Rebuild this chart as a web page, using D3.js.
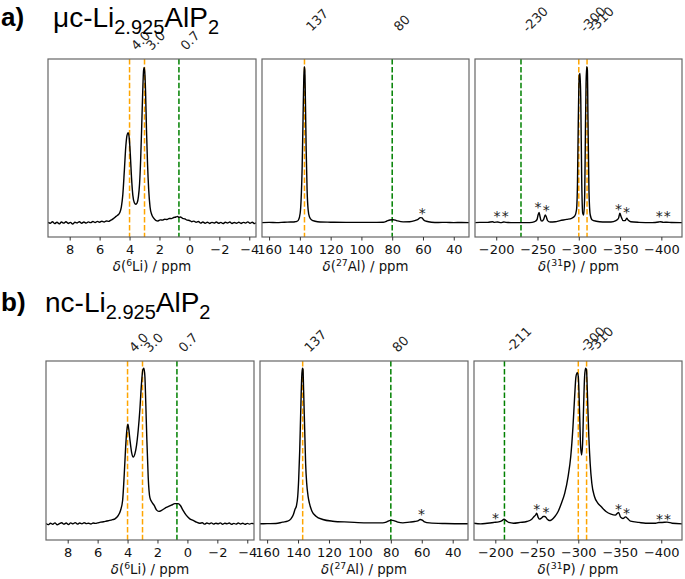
<!DOCTYPE html>
<html><head><meta charset="utf-8">
<script src="https://cdn.jsdelivr.net/npm/d3@7"></script>
<style>body{margin:0;background:#fff}svg{display:block}</style>
</head><body>
<script>
// ---------------- DATA ----------------
// 6Li spectra: [ppm, normalized intensity]
const liMicro = [[9.45,0.002],[9.3,-0.004],[9.15,0.006],[9.0,-0.006],[8.85,0.003],[8.7,-0.008],[8.55,0.004],[8.4,-0.003],[8.25,0.006],[8.1,-0.005],[7.95,0.002],[7.8,-0.009],[7.65,0.003],[7.5,-0.002],[7.35,0.006],[7.2,-0.004],[7.05,0.004],[6.9,-0.003],[6.75,0.005],[6.6,0.0],[6.45,0.007],[6.3,0.001],[6.15,0.008],[6.0,0.003],[5.85,0.009],[5.7,0.004],[5.55,0.011],[5.4,0.008],[5.25,0.016],[5.1,0.024],[5.0,0.032],[4.9,0.04],[4.8,0.047],[4.65,0.065],[4.55,0.10],[4.45,0.18],[4.35,0.33],[4.25,0.49],[4.17,0.56],[4.09,0.577],[4.02,0.54],[3.95,0.44],[3.87,0.29],[3.78,0.175],[3.68,0.128],[3.58,0.118],[3.49,0.128],[3.41,0.165],[3.33,0.25],[3.26,0.40],[3.19,0.61],[3.12,0.84],[3.06,0.98],[3.02,0.995],[2.98,0.96],[2.93,0.84],[2.87,0.60],[2.80,0.38],[2.72,0.21],[2.63,0.10],[2.52,0.052],[2.40,0.03],[2.25,0.015],[2.1,0.011],[1.95,0.018],[1.8,0.016],[1.65,0.022],[1.5,0.02],[1.35,0.027],[1.2,0.026],[1.05,0.033],[0.9,0.036],[0.8,0.04],[0.7,0.034],[0.6,0.036],[0.45,0.028],[0.3,0.024],[0.15,0.016],[0.0,0.014],[-0.15,0.006],[-0.3,0.01],[-0.45,0.002],[-0.6,0.007],[-0.75,-0.003],[-0.9,0.004],[-1.05,-0.004],[-1.2,0.003],[-1.35,-0.005],[-1.5,0.002],[-1.65,-0.003],[-1.8,0.004],[-1.95,-0.004],[-2.1,0.002],[-2.25,-0.006],[-2.4,0.003],[-2.55,-0.002],[-2.7,0.004],[-2.85,-0.005],[-3.0,0.001],[-3.15,-0.004],[-3.3,0.003],[-3.45,-0.005],[-3.6,0.002],[-3.75,-0.003],[-3.9,0.005],[-4.05,-0.004],[-4.2,0.003],[-4.35,-0.006],[-4.45,0.0]];
const liNano = [[9.45,0.002],[9.3,-0.005],[9.15,0.004],[9.0,-0.003],[8.85,0.006],[8.7,-0.006],[8.55,0.002],[8.4,0.007],[8.25,-0.002],[8.1,0.005],[7.95,-0.004],[7.8,0.006],[7.65,0.0],[7.5,0.008],[7.35,-0.002],[7.2,0.005],[7.05,0.0],[6.9,0.007],[6.75,0.001],[6.6,0.004],[6.45,-0.001],[6.3,0.005],[6.15,0.003],[6.0,0.006],[5.8,0.011],[5.6,0.013],[5.4,0.018],[5.2,0.022],[5.0,0.027],[4.84,0.032],[4.72,0.042],[4.62,0.054],[4.47,0.086],[4.33,0.15],[4.22,0.32],[4.13,0.49],[4.05,0.60],[3.98,0.64],[3.92,0.61],[3.84,0.54],[3.73,0.46],[3.62,0.43],[3.51,0.45],[3.40,0.505],[3.29,0.60],[3.18,0.73],[3.07,0.90],[2.98,0.99],[2.91,1.0],[2.84,0.946],[2.78,0.77],[2.71,0.54],[2.62,0.30],[2.51,0.17],[2.38,0.14],[2.22,0.118],[2.07,0.09],[1.91,0.08],[1.73,0.086],[1.51,0.10],[1.29,0.11],[1.07,0.12],[0.84,0.13],[0.62,0.13],[0.47,0.118],[0.29,0.086],[0.07,0.054],[-0.16,0.032],[-0.38,0.022],[-0.6,0.011],[-0.82,0.004],[-1.0,0.007],[-1.15,-0.002],[-1.3,0.005],[-1.45,0.0],[-1.6,0.006],[-1.75,-0.002],[-1.9,0.004],[-2.05,0.0],[-2.2,0.006],[-2.35,-0.003],[-2.5,0.004],[-2.65,0.0],[-2.8,0.005],[-2.95,-0.003],[-3.1,0.003],[-3.25,-0.002],[-3.4,0.005],[-3.55,-0.001],[-3.7,0.004],[-3.85,-0.003],[-4.0,0.003],[-4.15,-0.002],[-4.3,0.003],[-4.45,0.0]];
// 27Al spectra
const alMicro = [[164.6,0.0],[160,0.002],[155,0.0],[150,0.003],[146,0.004],[143,0.006],[142,0.008],[140.9,0.017],[139.8,0.06],[139.2,0.145],[138.5,0.36],[138.1,0.57],[137.6,0.85],[137.2,1.0],[136.8,0.98],[136.4,0.79],[135.9,0.47],[135.3,0.21],[134.6,0.08],[133.8,0.038],[132.3,0.017],[130.1,0.009],[126.9,0.004],[120,0.003],[110,0.002],[100,0.002],[90,0.002],[85.8,0.003],[83.7,0.009],[81.5,0.017],[79.4,0.019],[77.2,0.013],[72.9,0.005],[68.6,0.006],[65.3,0.013],[63.2,0.021],[61.7,0.032],[60.6,0.03],[59.5,0.017],[57.8,0.009],[54.5,0.003],[50,0.001],[45,0.002],[40,0.0],[35,0.001],[30.1,0.0]];
const alNano = [[165,0.0],[160,0.001],[154.3,0.002],[150,0.011],[146.7,0.017],[144.6,0.032],[143.0,0.06],[142.0,0.092],[141.1,0.113],[140.2,0.177],[139.6,0.284],[138.9,0.476],[138.3,0.71],[137.6,0.947],[137.2,1.0],[136.8,0.994],[136.4,0.86],[135.7,0.605],[135.1,0.39],[134.4,0.26],[133.5,0.177],[132.7,0.135],[131.0,0.081],[128.4,0.049],[124.0,0.028],[117.6,0.017],[106.8,0.011],[96.0,0.006],[85.2,0.006],[83.0,0.011],[81.3,0.019],[79.6,0.024],[77.6,0.019],[75.5,0.011],[72.2,0.006],[67.9,0.011],[64.7,0.015],[62.5,0.019],[61.0,0.028],[59.7,0.024],[58.2,0.013],[55.0,0.006],[45,0.002],[30,0.0]];
// 31P spectra
const pMicro = [[-174.6,0.0],[-180,0.002],[-189.8,0.002],[-195.8,0.006],[-197.8,0.002],[-201.8,0.004],[-205.7,0.0],[-209,0.004],[-211.7,0.002],[-221.6,0.0],[-230,0.0],[-237.6,0.0],[-243.5,0.002],[-247.5,0.009],[-249.5,0.021],[-250.7,0.049],[-251.9,0.066],[-253.1,0.038],[-254.3,0.013],[-255.5,0.011],[-257.4,0.021],[-259.4,0.049],[-260.6,0.038],[-262.2,0.013],[-265.4,0.004],[-271.4,0.006],[-277.3,0.013],[-285.3,0.021],[-291.3,0.028],[-295.2,0.043],[-297.2,0.081],[-298.4,0.25],[-299.2,0.57],[-300.0,0.85],[-300.8,0.95],[-301.6,0.957],[-302.4,0.79],[-303.6,0.25],[-304.8,0.06],[-306.0,0.049],[-307.2,0.19],[-308.0,0.57],[-308.8,0.89],[-309.6,1.0],[-310.4,0.98],[-311.1,0.68],[-312.3,0.21],[-313.9,0.049],[-316.3,0.017],[-321.1,0.009],[-329.0,0.004],[-339.0,0.004],[-345.0,0.013],[-348.1,0.028],[-349.7,0.06],[-351.3,0.038],[-353.7,0.013],[-356.1,0.013],[-358.1,0.028],[-359.7,0.017],[-362.9,0.006],[-372.8,0.002],[-388.7,0.0],[-396.7,0.004],[-398.7,0.006],[-402.6,0.002],[-406.6,0.003],[-412,0.001],[-422.5,0.0],[-425,0.0]];
const pNano = [[-174,0.004],[-182.3,0.0],[-190.2,0.004],[-198.2,0.009],[-204.1,0.013],[-208.1,0.021],[-210.5,0.03],[-212.9,0.021],[-216.1,0.009],[-222.0,0.004],[-230.0,0.009],[-237.9,0.015],[-243.9,0.03],[-246.7,0.047],[-248.7,0.058],[-249.9,0.069],[-251.5,0.043],[-253.1,0.03],[-255.4,0.036],[-257.8,0.047],[-259.8,0.047],[-262.6,0.03],[-265.0,0.021],[-267.8,0.026],[-271.8,0.047],[-275.7,0.079],[-279.7,0.133],[-283.7,0.197],[-287.7,0.304],[-290.9,0.433],[-293.6,0.625],[-295.6,0.818],[-297.2,0.946],[-298.8,0.972],[-300.0,0.946],[-301.6,0.711],[-302.8,0.497],[-304.0,0.443],[-305.2,0.518],[-306.4,0.754],[-307.6,0.946],[-308.8,1.0],[-309.9,0.989],[-311.1,0.818],[-312.7,0.561],[-314.3,0.39],[-316.3,0.261],[-319.5,0.176],[-323.5,0.133],[-327.4,0.111],[-333.4,0.079],[-339.4,0.062],[-344.6,0.056],[-348.5,0.073],[-351.0,0.043],[-353.8,0.034],[-357.0,0.045],[-359.5,0.034],[-363.0,0.017],[-373.2,0.009],[-381.1,0.004],[-393.1,0.004],[-397.1,0.009],[-401.0,0.009],[-407.0,0.011],[-413.0,0.004],[-425,0.0]];

// reference lines (ppm), their labels and kind
const liRefs = [4.0, 3.0, 0.7];
const liRefLabels = ["4.0", "3.0", "0.7"];
const liRefKinds = ["main", "main", "other"];
const alRefs = [137, 80];
const alRefLabels = ["137", "80"];
const alRefKinds = ["main", "other"];
const pRefsMicro = [-230, -300, -310];
const pRefLabelsMicro = ["-230", "-300", "-310"];
const pRefsNano = [-211, -300, -310];
const pRefLabelsNano = ["-211", "-300", "-310"];
const pRefKinds = ["other", "main", "main"];

// spinning sideband markers [ppm, intensity]
const alStarsMicro = [[60.4, 0.08]];
const alStarsNano = [[60.1, 0.08]];
const pStarsMicro = [[-201, 0.06], [-210.9, 0.06], [-250.7, 0.12], [-260.6, 0.103], [-348.1, 0.107], [-357.7, 0.086], [-397.5, 0.06], [-407, 0.06]];
const pStarsNano = [[-200.2, 0.058], [-249.9, 0.115], [-261, 0.096], [-348.5, 0.115], [-358, 0.09], [-397.9, 0.053], [-407.4, 0.053]];

// tick labels
const liTicks = [8, 6, 4, 2, 0, -2, -4];
const alTicks = [160, 140, 120, 100, 80, 60, 40];
const pTicks = [-200, -250, -300, -350, -400];

// ---------------- LAYOUT ----------------
const W = 685, H = 579;
const colors = {main: "#FFA500", other: "#008000"};
const svg = d3.select("body").append("svg").attr("width", W).attr("height", H)
  .style("font-family", "'DejaVu Sans', sans-serif");

const nucleusLabels = [["6", "Li"], ["27", "Al"], ["31", "P"]];
const xDomains = [[9.45, -4.45], [164.6, 30.1], [-174.3, -425]];
const tickSets = [liTicks, alTicks, pTicks];

const rows = [
  {top: 59, bottom: 237, xs: [[48, 256], [262, 469], [475, 682]], yDom: [-0.092, 1.049],
   labelBottom: [51, 32, 33],
   spectra: [liMicro, alMicro, pMicro],
   refs: [[liRefs, liRefKinds, liRefLabels], [alRefs, alRefKinds, alRefLabels], [pRefsMicro, pRefKinds, pRefLabelsMicro]],
   stars: [[], alStarsMicro, pStarsMicro]},
  {top: 361, bottom: 540, xs: [[46, 254], [260, 468], [474, 682]], yDom: [-0.104, 1.047],
   labelBottom: [353, 353, 353],
   spectra: [liNano, alNano, pNano],
   refs: [[liRefs, liRefKinds, liRefLabels], [alRefs, alRefKinds, alRefLabels], [pRefsNano, pRefKinds, pRefLabelsNano]],
   stars: [[], alStarsNano, pStarsNano]}
];

let clipId = 0;
rows.forEach((row, ri) => {
  const y = d3.scaleLinear().domain(row.yDom).range([row.bottom, row.top]);
  row.xs.forEach((xr, pi) => {
    const x = d3.scaleLinear().domain(xDomains[pi]).range(xr);
    const g = svg.append("g");
    const id = "clip" + (clipId++);
    svg.append("clipPath").attr("id", id).append("rect")
      .attr("x", xr[0]).attr("y", row.top).attr("width", xr[1] - xr[0]).attr("height", row.bottom - row.top);
    const inner = g.append("g").attr("clip-path", `url(#${id})`);

    const [refVals, refKinds, refLabels] = row.refs[pi];
    refVals.forEach((v, k) => {
      inner.append("line").attr("x1", x(v)).attr("x2", x(v))
        .attr("y1", row.top).attr("y2", row.bottom)
        .attr("stroke", colors[refKinds[k]]).attr("stroke-width", 1.5)
        .attr("stroke-dasharray", "5.5,2.4");
    });

    const line = d3.line().x(d => x(d[0])).y(d => y(d[1])).curve(d3.curveMonotoneX);
    inner.append("path").datum(row.spectra[pi]).attr("d", line)
      .attr("fill", "none").attr("stroke", "#000").attr("stroke-width", 1.4)
      .attr("stroke-linejoin", "round");

    row.stars[pi].forEach(s => {
      g.append("text").attr("x", x(s[0])).attr("y", y(s[1]) + 8)
        .attr("text-anchor", "middle").attr("font-size", 14).attr("fill", "#222").text("*");
    });

    g.append("rect").attr("x", xr[0]).attr("y", row.top)
      .attr("width", xr[1] - xr[0]).attr("height", row.bottom - row.top)
      .attr("fill", "none").attr("stroke", "#666").attr("stroke-width", 1.2);

    const ax = g.append("g").attr("transform", `translate(0,${row.bottom})`)
      .call(d3.axisBottom(x).tickValues(tickSets[pi]).tickSize(3.5).tickPadding(4)
        .tickFormat(d3.format("")));
    ax.select(".domain").remove();
    ax.selectAll(".tick line").attr("stroke", "#333");
    ax.selectAll(".tick text").attr("font-size", 13).attr("fill", "#111")
      .style("font-family", "'DejaVu Sans', sans-serif");

    const lab = g.append("text").attr("x", (xr[0] + xr[1]) / 2).attr("y", row.bottom + 34)
      .attr("text-anchor", "middle").attr("font-size", 13.3).attr("fill", "#111");
    lab.append("tspan").attr("font-style", "italic").text("δ");
    lab.append("tspan").text("(");
    lab.append("tspan").attr("font-size", 9.3).attr("dy", -5.5).text(nucleusLabels[pi][0]);
    lab.append("tspan").attr("dy", 5.5).text(nucleusLabels[pi][1] + ") / ppm");

    refVals.forEach((v, k) => {
      const lx = x(v) + 7, ly = row.labelBottom[pi];
      g.append("text").attr("transform", `translate(${lx},${ly}) rotate(-45)`)
        .attr("font-size", 13).attr("fill", "#222").text(refLabels[k]);
    });
  });
});

// titles
const titles = [
  {tag: "a)", pre: "μc-Li", x: 53, y: 27},
  {tag: "b)", pre: "nc-Li", x: 45, y: 312}
];
titles.forEach(t => {
  svg.append("text").attr("x", 1).attr("y", t.y - 1).attr("font-family", "'Liberation Sans', Arial, sans-serif")
    .attr("font-weight", "bold").attr("font-size", 26).text(t.tag);
  const tx = svg.append("text").attr("x", t.x).attr("y", t.y)
    .attr("font-family", "'Liberation Sans', Arial, sans-serif").attr("font-size", 28);
  tx.append("tspan").text(t.pre);
  tx.append("tspan").attr("font-size", 20).attr("dy", 7).text("2.925");
  tx.append("tspan").attr("dy", -7).text("AlP");
  tx.append("tspan").attr("font-size", 20).attr("dy", 7).text("2");
});
</script>
</body></html>
